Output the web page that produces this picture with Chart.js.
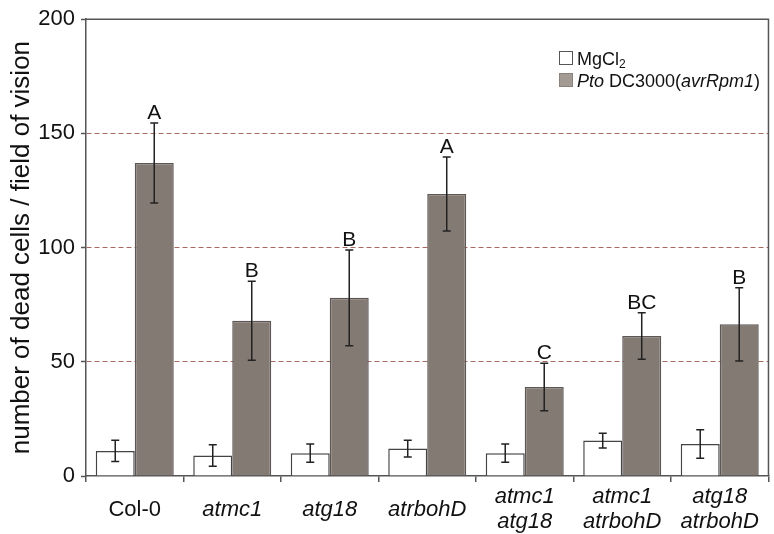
<!DOCTYPE html>
<html>
<head>
<meta charset="utf-8">
<script src="https://cdn.jsdelivr.net/npm/chart.js@4"></script>
<style>
  html, body { margin: 0; padding: 0; background: #fff; }
  #wrap { width: 774px; height: 534px; }
</style>
</head>
<body>
<div id="wrap"><canvas id="chart" width="774" height="534"></canvas></div>
<script>
// values
const groups   = ['Col-0', 'atmc1', 'atg18', 'atrbohD', ['atmc1', 'atg18'], ['atmc1', 'atrbohD'], ['atg18', 'atrbohD']];
const mgcl     = [11, 9, 10, 12, 10, 15.5, 14];
const mgclErr  = [4.6, 4.7, 4, 3.7, 4, 3.2, 6.2];
const pto      = [137, 68, 78, 123.5, 39, 61.3, 66.4];
const ptoErr   = [17.5, 17.3, 21, 16.2, 10.4, 10.2, 16];
const letters  = ['A', 'B', 'B', 'A', 'C', 'BC', 'B'];
const yTicks   = [0, 50, 100, 150, 200];

const FONT = '"Liberation Sans", Arial, sans-serif';
const AXIS = '#555';
const GREY = '#847a74';
const GREY_EDGE = '#5c5654';

// error bars + letters over the bars
const errorBars = {
  id: 'errorBars',
  afterDatasetsDraw(chart) {
    const ctx = chart.ctx, y = chart.scales.y;
    const errs = [mgclErr, ptoErr];
    ctx.save();
    ctx.strokeStyle = '#222';
    ctx.lineWidth = 1.5;
    chart.data.datasets.forEach((ds, di) => {
      chart.getDatasetMeta(di).data.forEach((bar, i) => {
        const v = ds.data[i], e = errs[di][i];
        const top = y.getPixelForValue(v + e), bot = y.getPixelForValue(v - e);
        ctx.beginPath();
        ctx.moveTo(bar.x, top); ctx.lineTo(bar.x, bot);
        ctx.moveTo(bar.x - 4, top); ctx.lineTo(bar.x + 4, top);
        ctx.moveTo(bar.x - 4, bot); ctx.lineTo(bar.x + 4, bot);
        ctx.stroke();
        if (di === 1) {
          ctx.fillStyle = '#111';
          ctx.font = '21px ' + FONT;
          ctx.textAlign = 'center';
          ctx.textBaseline = 'alphabetic';
          ctx.fillText(letters[i], bar.x, top - 4);
        }
      });
    });
    ctx.restore();
  }
};

// top and right edges of the frame, plus the legend
const frame = {
  id: 'frame',
  afterDraw(chart) {
    const ctx = chart.ctx, a = chart.chartArea;
    ctx.save();
    ctx.strokeStyle = AXIS;
    ctx.lineWidth = 1.5;
    ctx.beginPath();
    ctx.moveTo(a.left, a.top); ctx.lineTo(a.right, a.top); ctx.lineTo(a.right, a.bottom);
    ctx.stroke();

    const lx = 559, tx = 577;
    ctx.lineWidth = 1;
    ctx.fillStyle = '#fff'; ctx.strokeStyle = '#555';
    ctx.fillRect(lx, 51, 14, 14); ctx.strokeRect(lx + .5, 51.5, 13, 13);
    ctx.fillStyle = '#a39a94'; ctx.strokeStyle = '#8a827d';
    ctx.fillRect(lx, 73, 14, 14); ctx.strokeRect(lx + .5, 73.5, 13, 13);

    ctx.fillStyle = '#111';
    ctx.textBaseline = 'alphabetic';
    ctx.textAlign = 'left';
    let x = tx;
    ctx.font = '18px ' + FONT;
    ctx.fillText('MgCl', x, 65);
    x += ctx.measureText('MgCl').width;
    ctx.font = '12px ' + FONT;
    ctx.fillText('2', x, 68);

    const parts = [['Pto', 'italic '], [' DC3000(', ''], ['avrRpm1', 'italic '], [')', '']];
    x = tx;
    parts.forEach(([t, s]) => {
      ctx.font = s + '18px ' + FONT;
      ctx.fillText(t, x, 87);
      x += ctx.measureText(t).width;
    });
    ctx.restore();
  }
};

new Chart(document.getElementById('chart'), {
  type: 'bar',
  data: {
    labels: groups,
    datasets: [
      { label: 'MgCl2', data: mgcl, backgroundColor: '#fff', borderColor: '#444', borderWidth: 1.5,
        categoryPercentage: 0.8, barPercentage: 1.0 },
      { label: 'Pto DC3000(avrRpm1)', data: pto, backgroundColor: GREY, borderColor: GREY_EDGE, borderWidth: 1.5,
        categoryPercentage: 0.8, barPercentage: 1.0 }
    ]
  },
  options: {
    responsive: false,
    animation: false,
    layout: { padding: { top: 19, right: 2, left: 0, bottom: 0 } },
    plugins: { legend: { display: false }, tooltip: { enabled: false } },
    scales: {
      x: {
        afterFit: s => { s.height = 58; },
        grid: { offset: true, drawOnChartArea: false, tickLength: 6, color: AXIS, lineWidth: 1.5 },
        border: { color: AXIS, width: 1.5 },
        ticks: {
          autoSkip: false, maxRotation: 0, padding: 15, crossAlign: 'center', color: '#111',
          font: c => ({ family: FONT, size: 22, lineHeight: 1.14, style: c.index === 0 ? 'normal' : 'italic' })
        }
      },
      y: {
        min: 0, max: 200,
        afterFit: s => { s.width = 86; },
        afterBuildTicks: s => { s.ticks = yTicks.map(v => ({ value: v })); },
        grid: {
          color: c => (c.tick && (c.tick.value === 0 || c.tick.value === 200)) ? 'rgba(0,0,0,0)' : '#a8685e',
          tickColor: AXIS, tickLength: 5, tickWidth: 1.5, lineWidth: 1
        },
        border: { color: AXIS, width: 1.5, dash: [5, 3] },
        ticks: { padding: 6, color: '#111', font: { family: FONT, size: 22 } },
        title: {
          display: true, text: 'number of dead cells / field of vision', color: '#111',
          font: { family: FONT, size: 26 }, padding: { top: 6, bottom: 0 }
        }
      }
    }
  },
  plugins: [errorBars, frame]
});
</script>
</body>
</html>
